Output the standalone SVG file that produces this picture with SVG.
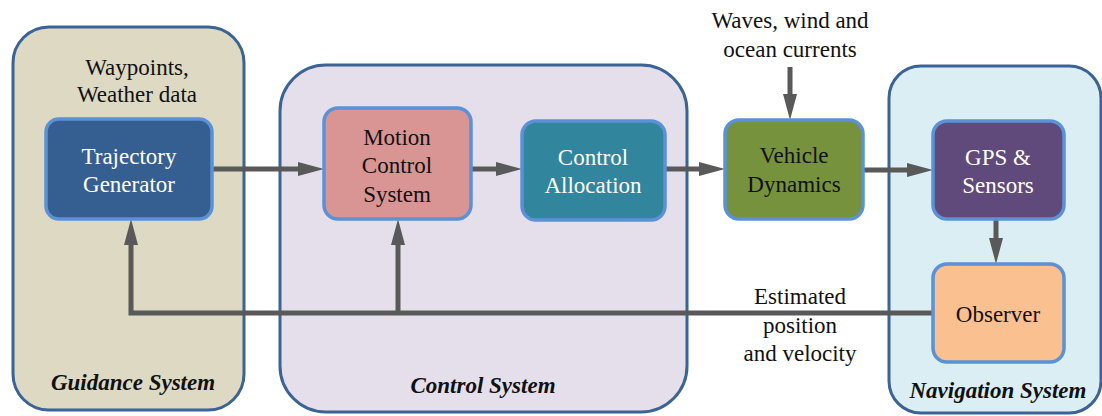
<svg xmlns="http://www.w3.org/2000/svg" width="1102" height="416" viewBox="0 0 1102 416">
<defs>
<style>
.cont{stroke:#3b6394;stroke-width:3}
.box{stroke:#5b91d6;stroke-width:3.5}
.t{font-family:"Times New Roman",Times,"Liberation Serif","Noto Serif","DejaVu Serif",Tinos,serif;font-size:23px;text-anchor:middle;fill:#111}
.w{fill:#fff}
.lab{font-family:"Times New Roman",Times,"Liberation Serif","Noto Serif","DejaVu Serif",Tinos,serif;font-size:23px;font-weight:bold;font-style:italic;text-anchor:middle;fill:#111}
.c{fill:none;stroke:#595959;stroke-width:5}
.a{marker-end:url(#ah)}
</style>
<marker id="ah" markerUnits="userSpaceOnUse" markerWidth="30" markerHeight="16" viewBox="0 -8 28 16" refX="2" refY="0" orient="auto">
<path d="M0,-7 L26,0 L0,7 Z" fill="#595959"/>
</marker>
</defs>
<rect width="1102" height="416" fill="#fff"/>

<g id="guidance-system">
<rect class="cont" x="13" y="27" width="231" height="383" rx="36" fill="#ddd9c3"/>
<text class="lab" x="133" y="390">Guidance System</text>
</g>
<g id="control-system">
<rect class="cont" x="280" y="65" width="407" height="347" rx="46" fill="#e5dfec"/>
<text class="lab" x="483" y="393">Control System</text>
</g>
<g id="navigation-system">
<rect class="cont" x="889" y="66" width="212" height="347" rx="32" fill="#daeef3"/>
<text class="lab" x="998" y="398">Navigation System</text>
</g>

<g id="waypoints-label">
<text class="t" x="137" y="75">Waypoints,</text>
<text class="t" x="137" y="102">Weather data</text>
</g>
<g id="disturbance-label">
<text class="t" x="790" y="28">Waves, wind and</text>
<text class="t" x="790" y="57">ocean currents</text>
</g>
<g id="estimate-label">
<text class="t" x="800" y="304">Estimated</text>
<text class="t" x="800" y="333">position</text>
<text class="t" x="800" y="361">and velocity</text>
</g>

<g id="connectors">
<path class="c a" d="M212,169 H300"/>
<path class="c a" d="M471,169 H498"/>
<path class="c a" d="M665,169 H701"/>
<path class="c a" d="M863,170 H909"/>
<path class="c a" d="M790,67 V96"/>
<path class="c a" d="M996,219 V240"/>
<path class="c a" d="M933,313 H131 V243"/>
<path class="c a" d="M398,313 V243"/>
</g>

<g id="trajectory-generator">
<rect class="box" x="46" y="119" width="166" height="100" rx="13" fill="#365f91"/>
<text class="t w" x="129" y="164">Trajectory</text>
<text class="t w" x="129" y="192">Generator</text>
</g>
<g id="motion-control-system">
<rect class="box" x="324" y="108" width="147" height="111" rx="14" fill="#d99594"/>
<text class="t" x="397" y="145">Motion</text>
<text class="t" x="397" y="173">Control</text>
<text class="t" x="397" y="202">System</text>
</g>
<g id="control-allocation">
<rect class="box" x="522" y="121" width="143" height="99" rx="14" fill="#31859c"/>
<text class="t w" x="593" y="165">Control</text>
<text class="t w" x="593" y="193">Allocation</text>
</g>
<g id="vehicle-dynamics">
<rect class="box" x="725" y="120" width="138" height="99" rx="14" fill="#76923c"/>
<text class="t" x="794" y="163">Vehicle</text>
<text class="t" x="794" y="192">Dynamics</text>
</g>
<g id="gps-sensors">
<rect class="box" x="933" y="121" width="131" height="98" rx="14" fill="#604a7b"/>
<text class="t w" x="998" y="165">GPS &amp;</text>
<text class="t w" x="998" y="193">Sensors</text>
</g>
<g id="observer">
<rect class="box" x="933" y="264" width="131" height="98" rx="14" fill="#fac08f"/>
<text class="t" x="998" y="322">Observer</text>
</g>
</svg>
